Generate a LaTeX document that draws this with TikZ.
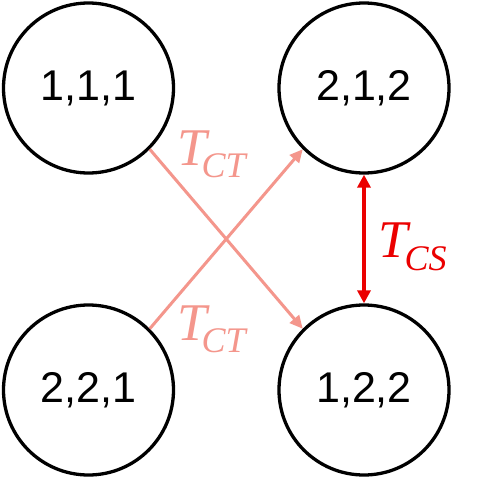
\documentclass[tikz,border=0pt]{standalone}
\usepackage{fontspec}
\setmainfont{Liberation Sans}
\newfontfamily\labfont{Liberation Serif}
\usetikzlibrary{arrows.meta}
\definecolor{salmon}{RGB}{244,150,140}
\definecolor{cred}{RGB}{235,0,0}
\begin{document}
\begin{tikzpicture}[x=1pt,y=-1pt,
  state/.style={circle,draw=black,line width=3.3pt,minimum size=170pt,inner sep=0pt,font=\fontsize{43}{50}\selectfont},
  cross/.style={draw=salmon,line width=3pt,-{Triangle[length=13pt,width=12pt]}},
  csarrow/.style={draw=cred,line width=3.2pt,{Triangle[length=13pt,width=13pt]}-{Triangle[length=13pt,width=13pt]}},
  lab/.style={anchor=base west,inner sep=0pt}]
\useasboundingbox (0,0) rectangle (480,479);
\fill[white] (0,0) rectangle (480,479);
\node[state] (a) at (88.5,88) {1,1,1};
\node[state] (b) at (364,88) {2,1,2};
\node[state] (c) at (88.5,390) {2,2,1};
\node[state] (d) at (364,390) {1,2,2};
\draw[cross] (a.-45) -- (d.135);
\draw[cross] (c.45) -- (b.-135);
\draw[csarrow] (b.south) -- (d.north);
\node[lab,text=salmon] (l1) at (177,165) {\labfont\itshape\fontsize{53}{60}\selectfont T\hspace{-5pt}\raisebox{-12pt}{\fontsize{36}{40}\selectfont CT}};
\node[lab,text=salmon] (l2) at (177,340) {\labfont\itshape\fontsize{53}{60}\selectfont T\hspace{-5pt}\raisebox{-12pt}{\fontsize{36}{40}\selectfont CT}};
\node[lab,text=cred] (l3) at (378,257) {\labfont\itshape\fontsize{53}{60}\selectfont T\hspace{-3pt}\raisebox{-13pt}{\fontsize{36}{40}\selectfont CS}};
\end{tikzpicture}
\end{document}
